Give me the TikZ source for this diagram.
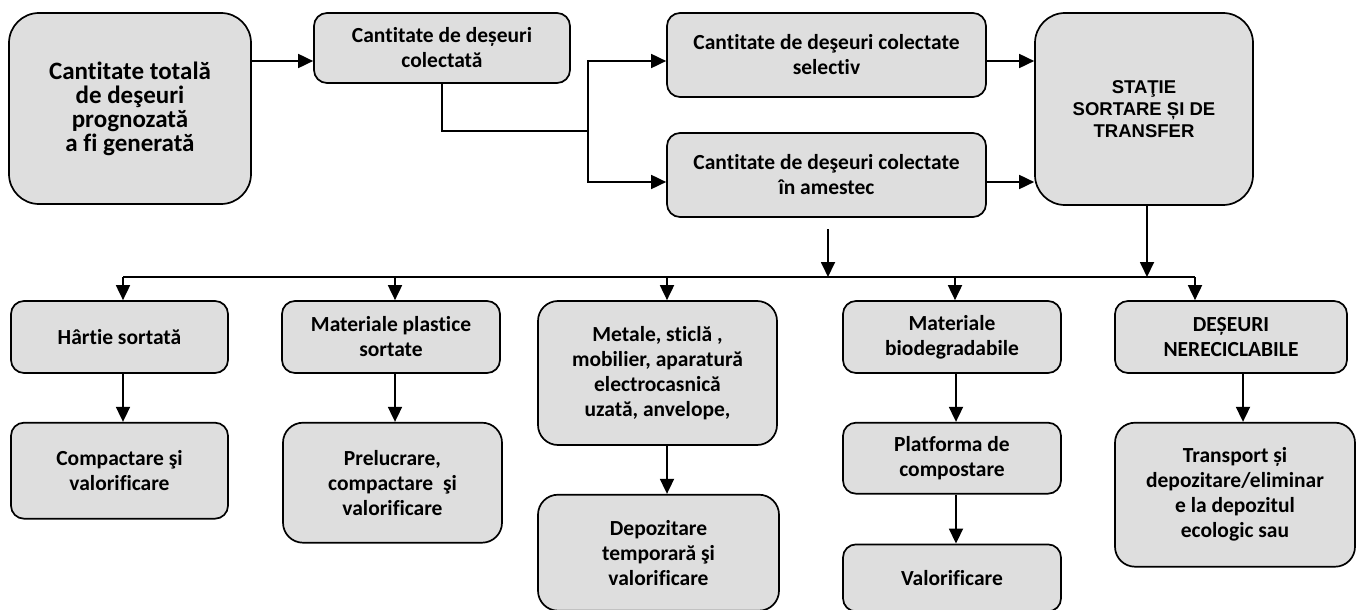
\documentclass[tikz,border=0pt]{standalone}
\usepackage{fontspec}
\setmainfont{Carlito}[Ligatures=NoCommon]
\newfontfamily\arialfont{Liberation Sans}
\usepackage{tikz}
\usetikzlibrary{arrows.meta,positioning}
\definecolor{boxgray}{RGB}{222,222,222}

\tikzset{
  box/.style={draw, line width=1.7pt, fill=boxgray, rounded corners=13pt,
              align=center, inner sep=0pt,
              font=\bfseries\fontsize{21.5}{25}\selectfont},
  bigbox/.style={box, rounded corners=30pt},
}

\begin{document}
\begin{tikzpicture}[x=1pt,y=-1pt,->,>={Triangle[length=15pt,width=14pt]},
                    line width=1.8pt,node distance=48pt]

  \useasboundingbox (0,0) rectangle (1360,610);

  \node[bigbox, minimum width=242pt, minimum height=191pt,
        font=\bfseries\fontsize{25}{24}\selectfont] (total) at (130,108.5)
        {Cantitate totală\\de deşeuri\\prognozată\\a fi generată};
  \node[box, minimum width=256pt, minimum height=70pt] (colect) at (442,48)
        {Cantitate de deșeuri\\colectată};
  \node[box, minimum width=319pt, minimum height=84pt] (selectiv) at (826.5,55)
        {Cantitate de deşeuri colectate\\selectiv};
  \node[box, minimum width=319pt, minimum height=84pt] (amestec) at (826.5,175)
        {Cantitate de deşeuri colectate\\în amestec};
  \node[bigbox, minimum width=218pt, minimum height=192pt,
        font=\arialfont\bfseries\fontsize{18.5}{22}\selectfont] (statie) at (1144,109)
        {STAŢIE\\SORTARE ȘI DE\\TRANSFER};

  \node[box, minimum width=217pt, minimum height=72pt] (hartie) at (119.5,337)
        {Hârtie sortată};
  \node[box, minimum width=217pt, minimum height=96pt] (compactare) [below=of hartie]
        {Compactare şi\\valorificare};
  \node[box, minimum width=218pt, minimum height=72pt] (plastice) at (391,337)
        {Materiale plastice\\sortate};
  \node[box, rounded corners=20pt, minimum width=219pt, minimum height=120pt]
        (prelucrare) [below=of plastice, xshift=1.5pt]
        {Prelucrare,\\compactare~ şi\\valorificare};
  \node[box, rounded corners=20pt, minimum width=239pt, minimum height=144pt]
        (metal) at (657.5,373)
        {Metale, sticlă ,\\mobilier, aparatură\\electrocasnică\\uzată, anvelope,};
  \node[box, rounded corners=20pt, minimum width=241pt, minimum height=116pt]
        (depozitare) [below=of metal, xshift=1pt]
        {Depozitare\\temporară şi\\valorificare};
  \node[box, minimum width=218pt, minimum height=72pt] (bio) at (952,337)
        {Materiale\\biodegradabile};
  \node[box, minimum width=218pt, minimum height=71pt] (platforma) [below=of bio]
        {Platforma de\\compostare};
  \node[box, minimum width=218pt, minimum height=67pt] (valorificare) [below=49pt of platforma]
        {Valorificare};
  \node[box, minimum width=232pt, minimum height=72pt] (deseuri) at (1231,337)
        {DEȘEURI\\NERECICLABILE};
  \node[box, rounded corners=20pt, minimum width=240pt, minimum height=144pt]
        (transport) [below=of deseuri, xshift=4pt]
        {Transport și\\depozitare/eliminar\\e la depozitul\\ecologic sau};

  \coordinate (split) at (588,131);
  \coordinate (drop) at (828,229);
  \coordinate (busL) at (123,277);
  \coordinate (busR) at (1195,277);

  \draw (total.east |- 0,61) -- (colect.west |- 0,61);
  \draw[-] (colect.south) |- (split);
  \draw (split) |- (selectiv.west |- 0,61);
  \draw (split) |- (amestec.west |- 0,182);
  \draw (selectiv.east |- 0,61) -- (statie.west |- 0,61);
  \draw (amestec.east |- 0,182) -- (statie.west |- 0,182);

  \draw (drop) -- (drop |- busL);
  \draw (statie.south -| 1147,0) -- (1147,277);
  \draw[-] (busL) -- (busR);
  \foreach \x/\n in {123/hartie,395/plastice,667/metal,955/bio,1195/deseuri}
    \draw (\x,277) -- (\x,277 |- \n.north);

  \draw (hartie.south -| 123,0) -- (compactare.north -| 123,0);
  \draw (plastice.south -| 395,0) -- (prelucrare.north -| 395,0);
  \draw (metal.south -| 667,0) -- (depozitare.north -| 667,0);
  \draw (bio.south -| 956,0) -- (platforma.north -| 956,0);
  \draw (platforma.south -| 956,0) -- (valorificare.north -| 956,0);
  \draw (deseuri.south -| 1243,0) -- (transport.north -| 1243,0);

\end{tikzpicture}
\end{document}
